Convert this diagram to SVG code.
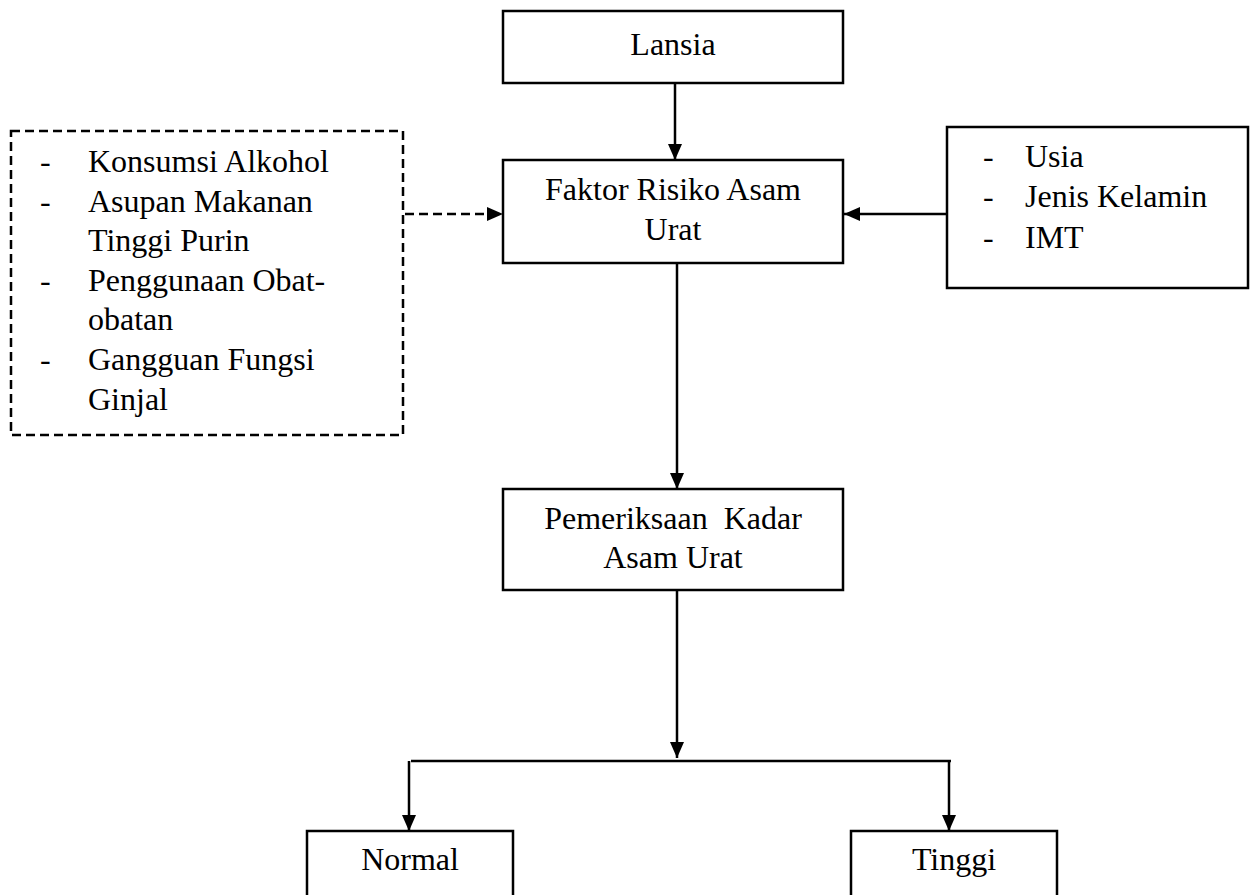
<svg xmlns="http://www.w3.org/2000/svg" width="1252" height="895" viewBox="0 0 1252 895">
<style>
.box{fill:#fff;stroke:#000;stroke-width:2.5}
.dbox{fill:#fff;stroke:#000;stroke-width:2.5;stroke-dasharray:9 5}
.t{font-family:"Liberation Serif","Times New Roman","DejaVu Serif",serif;font-size:32px;fill:#000}
.c{text-anchor:middle}
.ln{stroke:#000;stroke-width:2.5;fill:none}
.dl{stroke:#000;stroke-width:2.5;fill:none;stroke-dasharray:9 5}
</style>
<defs>
<marker id="ah" markerUnits="userSpaceOnUse" markerWidth="16" markerHeight="16" refX="16" refY="8" orient="auto" viewBox="0 0 16 16">
<path d="M0,1 L16,8 L0,15 z" fill="#000"/>
</marker>
</defs>
<rect width="1252" height="895" fill="#fff"/>
<g id="connectors">
<line class="ln" x1="675" y1="83" x2="675" y2="160" marker-end="url(#ah)"/>
<line class="dl" x1="405" y1="214" x2="503" y2="214" marker-end="url(#ah)"/>
<line class="ln" x1="947" y1="214" x2="844" y2="214" marker-end="url(#ah)"/>
<line class="ln" x1="677" y1="263" x2="677" y2="489" marker-end="url(#ah)"/>
<line class="ln" x1="677" y1="590" x2="677" y2="758" marker-end="url(#ah)"/>
<line class="ln" x1="411" y1="761" x2="951" y2="761"/>
<line class="ln" x1="409" y1="761" x2="409" y2="831" marker-end="url(#ah)"/>
<line class="ln" x1="949" y1="761" x2="949" y2="831" marker-end="url(#ah)"/>
</g>
<g id="lansia">
<rect class="box" x="503" y="11" width="340" height="72"/>
<text class="t c" x="673" y="55">Lansia</text>
</g>
<g id="faktor">
<rect class="box" x="503" y="160" width="340" height="103"/>
<text class="t c" x="673" y="200">Faktor Risiko Asam</text>
<text class="t c" x="673" y="240">Urat</text>
</g>
<g id="faktor-lain">
<rect class="dbox" x="11" y="131" width="392" height="304"/>
<text class="t" x="40" y="172">-</text><text class="t" x="88" y="172">Konsumsi Alkohol</text>
<text class="t" x="40" y="212">-</text><text class="t" x="88" y="212">Asupan Makanan</text>
<text class="t" x="88" y="251">Tinggi Purin</text>
<text class="t" x="40" y="291">-</text><text class="t" x="88" y="291">Penggunaan Obat-</text>
<text class="t" x="88" y="330">obatan</text>
<text class="t" x="40" y="370">-</text><text class="t" x="88" y="370">Gangguan Fungsi</text>
<text class="t" x="88" y="410">Ginjal</text>
</g>
<g id="karakteristik">
<rect class="box" x="947" y="127" width="301" height="161"/>
<text class="t" x="983" y="167">-</text><text class="t" x="1025" y="167">Usia</text>
<text class="t" x="983" y="207">-</text><text class="t" x="1025" y="207">Jenis Kelamin</text>
<text class="t" x="983" y="248">-</text><text class="t" x="1025" y="248">IMT</text>
</g>
<g id="pemeriksaan">
<rect class="box" x="503" y="489" width="340" height="101"/>
<text class="t c" x="673" y="529" xml:space="preserve">Pemeriksaan  Kadar</text>
<text class="t c" x="673" y="568">Asam Urat</text>
</g>
<g id="normal">
<rect class="box" x="307" y="831" width="206" height="80"/>
<text class="t c" x="410" y="870">Normal</text>
</g>
<g id="tinggi">
<rect class="box" x="851" y="831" width="206" height="80"/>
<text class="t c" x="954" y="870">Tinggi</text>
</g>
</svg>
